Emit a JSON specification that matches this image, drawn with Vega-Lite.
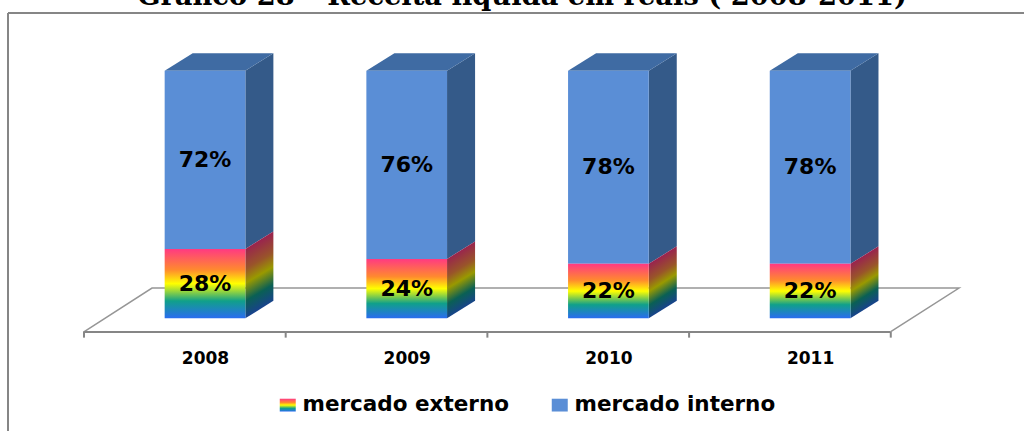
{
"$schema":"https://vega.github.io/schema/vega-lite/v6.json",
"width":1024,"height":431,"padding":0,"autosize":{"type":"none"},
"background":"white",
"title":{"text":"Gráfico 28 – Receita líquida em reais ( 2008-2011)","font":"DejaVu Serif","fontWeight":"bold","fontSize":27.3,"color":"black","anchor":"middle","frame":"group","offset":-10,"dx":10},
"config":{"view":{"stroke":null}},
"datasets":{
"bars":[
{"year":2008,"series":"mercado externo","order":1,"pct":28},
{"year":2008,"series":"mercado interno","order":2,"pct":72},
{"year":2009,"series":"mercado externo","order":1,"pct":24},
{"year":2009,"series":"mercado interno","order":2,"pct":76},
{"year":2010,"series":"mercado externo","order":1,"pct":22},
{"year":2010,"series":"mercado interno","order":2,"pct":78},
{"year":2011,"series":"mercado externo","order":1,"pct":22},
{"year":2011,"series":"mercado interno","order":2,"pct":78}
],
"frame":[
{"a":2007.0233,"b":2007.0233,"c":123.3,"d":-45.5},
{"a":2007.0233,"b":2012.0605,"c":123.3,"d":123.3}
],
"floorBack":[
{"xv":2007.3976,"yv":-5.53,"o":1},
{"xv":2007.7372,"yv":12.24,"o":2},
{"xv":2011.7382,"yv":12.24,"o":3},
{"xv":2011.3962,"yv":-5.53,"o":4}
],
"floorFront":[
{"xv":2007.3976,"yv":-5.53,"o":1},
{"xv":2011.3962,"yv":-5.53,"o":2}
],
"ticks":[{"xv":2007.4},{"xv":2008.4},{"xv":2009.4},{"xv":2010.4},{"xv":2011.4}]
},
"layer":[
{"data":{"name":"floorBack"},"mark":{"type":"line","color":"#969696","strokeWidth":1.5},
"encoding":{"x":{"field":"xv","type":"quantitative","scale":{"domain":[2006.9836,2012.0605],"nice":false,"zero":false},
"axis":{"values":[2008,2009,2010,2011],"format":"d","domain":false,"ticks":false,"grid":false,"title":null,"labelFont":"DejaVu Sans","labelFontWeight":"bold","labelFontSize":17,"labelColor":"black","offset":-81,"labelPadding":0}},
"y":{"field":"yv","type":"quantitative","scale":{"domain":[-45.5,128.55],"nice":false,"zero":false},"axis":null},
"order":{"field":"o"}}},
{"data":{"name":"floorFront"},"mark":{"type":"line","color":"#868686","strokeWidth":2.2},
"encoding":{"x":{"field":"xv","type":"quantitative"},"y":{"field":"yv","type":"quantitative"},"order":{"field":"o"}}},
{"data":{"name":"ticks"},"transform":[{"calculate":"-5.53","as":"t0"},{"calculate":"-7.8","as":"t1"}],"mark":{"type":"rule","color":"#868686","strokeWidth":2},
"encoding":{"x":{"field":"xv","type":"quantitative"},"y":{"field":"t0","type":"quantitative"},"y2":{"field":"t1"}}},
{"data":{"name":"frame"},"mark":{"type":"rule","color":"#868686","strokeWidth":2},
"encoding":{"x":{"field":"a","type":"quantitative"},"x2":{"field":"b"},"y":{"field":"c","type":"quantitative"},"y2":{"field":"d"}}},
{"data":{"name":"bars"},
"transform":[
{"stack":"pct","groupby":["year"],"sort":[{"field":"order"}],"as":["y0","y1"]},
{"filter":"datum.order==2"},
{"calculate":"datum.year+0.2","as":"xa"},{"calculate":"datum.year+0.339","as":"xb"},
{"fold":["xa","xb"],"as":["k","xp"]},
{"calculate":"datum.k=='xb'?7.07:0","as":"dy"},
{"calculate":"datum.y0+datum.dy","as":"s0"},{"calculate":"datum.y1+datum.dy","as":"s1"}
],
"mark":{"type":"area","color":"#345a89"},
"encoding":{"x":{"field":"xp","type":"quantitative"},"y":{"field":"s1","type":"quantitative"},"y2":{"field":"s0"},"detail":{"field":"year"}}},
{"data":{"name":"bars"},
"transform":[
{"filter":"datum.order==1 && datum.pct==28"},
{"calculate":"datum.year+0.2","as":"xa"},{"calculate":"datum.year+0.339","as":"xb"},
{"fold":["xa","xb"],"as":["k","xp"]},
{"calculate":"datum.k=='xb'?7.07:0","as":"s0"},{"calculate":"datum.pct+datum.s0","as":"s1"}
],
"mark":{"type":"area","color":{"gradient":"linear","x1":0.4,"y1":0.11,"x2":0.55,"y2":0.9,"stops":[{"offset":0,"color":"#992150"},{"offset":0.3,"color":"#99542a"},{"offset":0.5,"color":"#999900"},{"offset":0.75,"color":"#0a6054"},{"offset":1,"color":"#19418f"}]}},
"encoding":{"x":{"field":"xp","type":"quantitative"},"y":{"field":"s1","type":"quantitative"},"y2":{"field":"s0"},"detail":{"field":"year"}}},
{"data":{"name":"bars"},
"transform":[
{"filter":"datum.order==1 && datum.pct==24"},
{"calculate":"datum.year+0.2","as":"xa"},{"calculate":"datum.year+0.339","as":"xb"},
{"fold":["xa","xb"],"as":["k","xp"]},
{"calculate":"datum.k=='xb'?7.07:0","as":"s0"},{"calculate":"datum.pct+datum.s0","as":"s1"}
],
"mark":{"type":"area","color":{"gradient":"linear","x1":0.4,"y1":0.12,"x2":0.57,"y2":0.89,"stops":[{"offset":0,"color":"#992150"},{"offset":0.3,"color":"#99542a"},{"offset":0.5,"color":"#999900"},{"offset":0.75,"color":"#0a6054"},{"offset":1,"color":"#19418f"}]}},
"encoding":{"x":{"field":"xp","type":"quantitative"},"y":{"field":"s1","type":"quantitative"},"y2":{"field":"s0"},"detail":{"field":"year"}}},
{"data":{"name":"bars"},
"transform":[
{"filter":"datum.order==1 && datum.pct==22"},
{"calculate":"datum.year+0.2","as":"xa"},{"calculate":"datum.year+0.339","as":"xb"},
{"fold":["xa","xb"],"as":["k","xp"]},
{"calculate":"datum.k=='xb'?7.07:0","as":"s0"},{"calculate":"datum.pct+datum.s0","as":"s1"}
],
"mark":{"type":"area","color":{"gradient":"linear","x1":0.4,"y1":0.14,"x2":0.58,"y2":0.87,"stops":[{"offset":0,"color":"#992150"},{"offset":0.3,"color":"#99542a"},{"offset":0.5,"color":"#999900"},{"offset":0.75,"color":"#0a6054"},{"offset":1,"color":"#19418f"}]}},
"encoding":{"x":{"field":"xp","type":"quantitative"},"y":{"field":"s1","type":"quantitative"},"y2":{"field":"s0"},"detail":{"field":"year"}}},
{"data":{"name":"bars"},
"transform":[
{"filter":"datum.order==2"},
{"calculate":"datum.year-0.2","as":"xa"},{"calculate":"datum.year+0.2","as":"xb"},
{"calculate":"100","as":"ya"},{"calculate":"107.07","as":"yb"},
{"fold":["ya","yb"],"as":["k","yp"]},
{"calculate":"datum.k=='yb'?datum.xa+0.139:datum.xa","as":"l"},{"calculate":"datum.k=='yb'?datum.xb+0.139:datum.xb","as":"r"}
],
"mark":{"type":"area","orient":"horizontal","color":"#3f6ba3"},
"encoding":{"y":{"field":"yp","type":"quantitative"},"x":{"field":"l","type":"quantitative"},"x2":{"field":"r"},"detail":{"field":"year"}}},
{"data":{"name":"bars"},
"transform":[
{"stack":"pct","groupby":["year"],"sort":[{"field":"order"}],"as":["y0","y1"]},
{"filter":"datum.order==2"},
{"calculate":"datum.year-0.2","as":"xa"},{"calculate":"datum.year+0.2","as":"xb"}
],
"mark":{"type":"rect","fill":"#5a8ed6","strokeWidth":0},
"encoding":{"x":{"field":"xa","type":"quantitative"},"x2":{"field":"xb"},"y":{"field":"y0","type":"quantitative"},"y2":{"field":"y1"},
"stroke":{"field":"series","type":"nominal","scale":{"domain":["mercado externo","mercado interno"],"range":["#5a8ed6","#5a8ed6"]},
"legend":{"title":null,"orient":"none","legendX":277,"legendY":394,"direction":"horizontal","symbolType":"M-1,-0.8H1V0.8H-1Z","symbolSize":256,"symbolStrokeWidth":0,"labelFont":"DejaVu Sans","labelFontWeight":"bold","labelFontSize":21.5,"labelLimit":400,"labelColor":"black","columnPadding":40,"labelOffset":4,
"encoding":{"symbols":{"fill":{"value":{"expr":"datum.value=='mercado externo'?{gradient:'linear',x1:0,y1:0,x2:0,y2:1,stops:[{offset:0,color:'#ff3a82'},{offset:0.3,color:'#ff8a2e'},{offset:0.5,color:'#ffff00'},{offset:0.75,color:'#10a08a'},{offset:1,color:'#2a6cf0'}]}:'#5a8ed6'"}},"opacity":{"value":1}}}}}}},
{"data":{"name":"bars"},
"transform":[
{"filter":"datum.order==1"},
{"calculate":"datum.year-0.2","as":"xa"},{"calculate":"datum.year+0.2","as":"xb"},{"calculate":"0","as":"y0"}
],
"mark":{"type":"rect","color":{"gradient":"linear","x1":0,"y1":0,"x2":0,"y2":1,"stops":[{"offset":0,"color":"#ff3a82"},{"offset":0.3,"color":"#ff8a2e"},{"offset":0.5,"color":"#ffff00"},{"offset":0.75,"color":"#10a08a"},{"offset":1,"color":"#2a6cf0"}]}},
"encoding":{"x":{"field":"xa","type":"quantitative"},"x2":{"field":"xb"},"y":{"field":"y0","type":"quantitative"},"y2":{"field":"pct"}}},
{"data":{"name":"bars"},
"transform":[
{"stack":"pct","groupby":["year"],"sort":[{"field":"order"}],"as":["y0","y1"]},
{"calculate":"(datum.y0+datum.y1)/2","as":"mid"},{"calculate":"datum.pct+'%'","as":"lab"}
],
"mark":{"type":"text","font":"DejaVu Sans","fontWeight":"bold","fontSize":22,"color":"black","align":"center","baseline":"middle"},
"encoding":{"x":{"field":"year","type":"quantitative"},"y":{"field":"mid","type":"quantitative"},"text":{"field":"lab"}}}
]
}
